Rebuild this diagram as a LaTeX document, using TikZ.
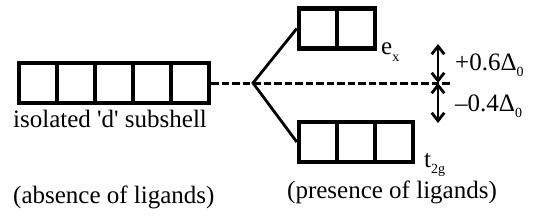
\documentclass[tikz,border=0pt]{standalone}
\usepackage{fontspec}
\setmainfont{Liberation Serif}
\usetikzlibrary{arrows.meta}
\newcommand{\lowsub}[1]{\raisebox{-6pt}{\fontsize{14}{14}\selectfont #1}}

\begin{document}
\begin{tikzpicture}[x=1pt,y=-1pt,
  cell/.style={draw,line width=4.4pt,minimum width=38pt,minimum height=40pt,inner sep=0pt},
  lbl/.style={font=\fontsize{25}{29}\selectfont,inner sep=0pt,anchor=base west},
  fork/.style={line width=2.8pt},
  lvl/.style={line width=3pt,dash pattern=on 7.5pt off 3pt},
  gap/.style={{Straight Barb[length=2.8mm,width=4.4mm]}-{Straight Barb[length=2.8mm,width=4.4mm]},line width=2.8pt}]
\useasboundingbox (0,0) rectangle (537,222);
% d subshell and the two split levels
\foreach \i in {1,...,5} \node[cell] (d\i) at ({19+38*(\i-0.5)},83) {};
\foreach \i in {1,2} \node[cell] (e\i) at ({299+38*(\i-0.5)},28.5) {};
\foreach \i in {1,2,3} \node[cell] (t\i) at ({299+38*(\i-0.5)},142) {};
\coordinate (v) at (253,83);
\coordinate (dend) at (452,83);
\coordinate (gtop) at (438,44);
\coordinate (gmid) at (438,83);
\coordinate (gbot) at (438,123);
\draw[lvl] (d5.east) -- (dend);
\draw[fork] (e1.west) -- (v) -- (t1.west);
\draw[gap] (gtop) -- (gmid);
\draw[gap] (gmid) -- (gbot);
% labels
\node[lbl] (ex) at (381,55) {e\lowsub{x}};
\node[lbl] (t2g) at (424,167) {t\lowsub{2g}};
\node[lbl] (up) at (455,70) {+0.6Δ\lowsub{0}};
\node[lbl] (down) at (455,111) {–0.4Δ\lowsub{0}};
\node[lbl] (iso) at (13,127) {isolated \textquotesingle d\textquotesingle{} subshell};
\node[lbl] (abs) at (13,203) {(absence of ligands)};
\node[lbl] (pres) at (287,198) {(presence of ligands)};
\end{tikzpicture}
\end{document}
